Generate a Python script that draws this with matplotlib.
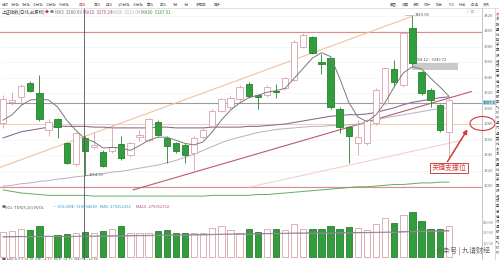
import matplotlib
matplotlib.use('Agg')
import matplotlib.pyplot as plt
from matplotlib.patches import Ellipse, FancyArrowPatch, Rectangle
from matplotlib.lines import Line2D

plt.rcParams['font.family'] = ['Noto Sans CJK SC', 'DejaVu Sans']

# candles (open, high, low, close)
opens = [3281, 3308, 3315, 3333, 3320, 3272, 3286, 3255, 3228, 3262,
         3250, 3244, 3245, 3254, 3240, 3263, 3259, 3283, 3262, 3255,
         3253, 3243, 3263, 3277, 3297, 3302, 3312, 3332, 3317, 3317,
         3323, 3326, 3337, 3380, 3392, 3360, 3365, 3300, 3276, 3255,
         3255, 3281, 3307, 3351, 3330, 3404, 3347, 3324, 3304, 3270]
highs = [3318, 3321, 3331, 3335, 3343, 3286, 3288, 3257, 3270, 3264,
         3270, 3246, 3279, 3264, 3257, 3272, 3288, 3285, 3264, 3257,
         3255, 3264, 3276, 3299, 3314, 3316, 3330, 3334, 3319, 3330,
         3331, 3341, 3388, 3397, 3394, 3370, 3367, 3302, 3278, 3285,
         3287, 3326, 3354, 3362, 3399, 3419.05, 3349, 3326, 3306, 3313]
lows = [3275, 3305, 3305, 3321, 3284, 3264, 3262, 3228, 3226, 3214.69,
        3248, 3224, 3243, 3233, 3238, 3258, 3257, 3264, 3230, 3243,
        3230, 3221, 3261, 3275, 3295, 3300, 3310, 3314, 3300, 3315,
        3313, 3324, 3335, 3378, 3370, 3345, 3300, 3268, 3230, 3240,
        3253, 3279, 3305, 3328, 3328, 3356, 3318, 3302, 3270, 3237]
closes = [3312, 3311, 3329, 3323, 3286, 3283, 3276, 3230, 3268, 3245,
          3253, 3226, 3250, 3236, 3255, 3266, 3286, 3266, 3252, 3245,
          3240, 3262, 3272, 3297, 3312, 3314, 3328, 3316, 3315, 3328,
          3321, 3339, 3386, 3395, 3372, 3358, 3302, 3276, 3264, 3263,
          3285, 3324, 3352, 3334, 3397, 3359, 3320, 3311, 3272, 3311]

ma5 = [3285, 3292, 3304, 3311, 3312, 3311, 3302, 3285, 3272, 3261,
       3257, 3249, 3250, 3249, 3246, 3252, 3259, 3263, 3263, 3259,
       3255, 3253, 3257, 3270, 3285, 3298, 3307, 3314, 3317, 3321,
       3323, 3326, 3339, 3352, 3365, 3372, 3367, 3339, 3308, 3289,
       3283, 3292, 3308, 3328, 3346, 3354, 3351, 3339, 3328, 3316]
ma10 = [3262, 3266, 3270, 3272, 3274, 3276, 3277, 3277, 3277, 3277,
        3276, 3276, 3275, 3275, 3275, 3275, 3275, 3276, 3276, 3275,
        3275, 3275, 3275, 3276, 3276, 3276, 3276, 3277, 3277, 3278,
        3279, 3280, 3282, 3284, 3286, 3288, 3290, 3291, 3292, 3292,
        3293, 3295, 3298, 3301, 3305, 3308, 3310, 3312, 3314, 3315]
ma20 = [3200, 3201, 3203, 3204, 3206, 3207, 3209, 3210, 3212, 3213,
        3215, 3216, 3218, 3219, 3221, 3223, 3225, 3227, 3230, 3233,
        3237, 3241, 3246, 3251, 3256, 3260, 3263, 3266, 3269, 3271,
        3273, 3274, 3275, 3276, 3277, 3277, 3278, 3278, 3279, 3280,
        3282, 3285, 3288, 3290, 3292, 3294, 3296, 3298, 3300, 3301]
ma60 = [3195, 3193, 3191, 3190, 3189, 3188, 3188, 3188, 3188, 3188,
        3187, 3187, 3187, 3187, 3187, 3187, 3187, 3187, 3187, 3187,
        3187, 3187, 3187, 3188, 3188, 3188, 3188, 3188, 3189, 3189,
        3190, 3191, 3192, 3193, 3194, 3195, 3196, 3197, 3198, 3199,
        3199, 3200, 3201, 3202, 3202, 3203, 3204, 3204, 3205, 3205]

volumes = [32600, 34000, 36000, 35000, 40700, 26400, 27800, 29300, 31100, 32600,
           31100, 34000, 36000, 41100, 31100, 30300, 31100, 33600, 35000, 30300,
           30300, 31100, 30300, 37400, 40700, 35000, 30300, 36000, 32600, 36000,
           36000, 35000, 43100, 36400, 36000, 36000, 40700, 36800, 39700, 37400,
           35000, 43100, 51700, 45400, 56400, 61100, 47800, 36800, 36400, 40700]
vol_ma = [25400, 25600, 25800, 25700, 25900, 26100, 25900, 25800, 26000, 26200,
          26300, 26500, 26600, 26900, 27000, 27200, 27300, 27500, 27800, 27900,
          28100, 28300, 28400, 28700, 29000, 29200, 29300, 29500, 29800, 30000,
          30200, 30300, 30600, 30700, 30900, 31000, 31100, 31200, 31300, 31400,
          31500, 31700, 31900, 32200, 32600, 32900, 33200, 33500, 33800, 34000]

price_ticks = [3420, 3400, 3380, 3360, 3340, 3320, 3300, 3280, 3260, 3240, 3220, 3200]
vol_ticks = [45000, 30000, 15000]

toolbar_left = ['分时', '1分钟', '5分钟', '15分钟', '30分钟', '60分钟', '日线', '周线',
                '月线', '120分钟', '45分钟', '季线', '年线', '5分', '1分', '多周期', '更多']
toolbar_right = ['画图', '设置', '多股', '统计', '指标', 'F10', '标记', '+自选', '资讯']

W, H = 499, 260
fig = plt.figure(figsize=(W / 100, H / 100), dpi=100)
fig.patch.set_facecolor('white')


def fx(px):
    return px / W


def fy(py):
    return 1 - py / H


def ftext(px, py, s, **kw):
    kw.setdefault('fontsize', 3.2)
    kw.setdefault('va', 'center')
    fig.text(fx(px), fy(py), s, **kw)


def fline(xs, ys, **kw):
    fig.add_artist(Line2D([fx(x) for x in xs], [fy(y) for y in ys],
                          transform=fig.transFigure, **kw))


up_edge = '#d7a2aa'
dn_face = '#339c3c'
dn_edge = '#26822e'

# ---------------- price panel ----------------
ax = fig.add_axes([0, fy(204), 482 / W, (204 - 8) / H])
ax.set_xlim(-0.33, 52.64)
ax.set_ylim(3176.8, 3429.7)
for y in price_ticks:
    ax.axhline(y, color='#f1f1f1', lw=0.4, zorder=0)

# horizontal levels
ax.axhline(3399, color='#e08c8c', lw=0.8, zorder=1)
ax.axhline(3199, color='#e08c8c', lw=0.8, zorder=1)
ax.axhline(3307.6, color='#9a9a9a', lw=0.8, zorder=1)
ax.axhline(3280, color='#ecd0b4', lw=0.7, zorder=1)

# trend lines
ax.plot([-0.33, 45], [3224, 3419.05], color='#f2c29c', lw=0.8, zorder=1)
ax.plot([27.1, 50.5], [3198.7, 3259], color='#f1d2ca', lw=0.8, zorder=1)
ax.plot([14.3, 51.5], [3195, 3322], color='#b85c6e', lw=0.8, zorder=1)

# zone band
ax.fill_between([45, 50.0], 3349.72, 3358.12, color='#c9c9c9', lw=0, zorder=1)

xs = list(range(len(opens)))
ax.plot(xs, ma20, color='#bcaec4', lw=0.7, zorder=2)
ax.plot(xs, ma60, color='#5fae62', lw=0.7, zorder=2)
ax.plot(xs, ma10, color='#8e6f98', lw=0.8, zorder=2)

for i in xs:
    o, h, l, c = opens[i], highs[i], lows[i], closes[i]
    up = c >= o
    ec = up_edge if up else dn_edge
    ax.vlines(i, l, h, color=ec, lw=0.6, zorder=3)
    bot, top = min(o, c), max(o, c)
    ax.add_patch(Rectangle((i - 0.35, bot), 0.7, max(top - bot, 0.8),
                           facecolor='white' if up else dn_face,
                           edgecolor=ec, lw=0.6, zorder=4))

ax.plot(xs, ma5, color='#7a7a7a', lw=0.7, zorder=5)

ax.set_xticks([])
ax.set_yticks([])
for s in ['top', 'left']:
    ax.spines[s].set_visible(False)
ax.spines['right'].set_color('#bbbbbb')
ax.spines['right'].set_linewidth(0.6)
ax.spines['bottom'].set_color('#cccccc')
ax.spines['bottom'].set_linewidth(0.6)

ytr = ax.get_yaxis_transform()
for y in price_ticks:
    ax.text(489 / 482, y, str(y), transform=ytr, fontsize=3.0, color='#777777',
            ha='center', va='center', clip_on=False)
ax.text(489.5 / 482, 3307.6, '3307.6', transform=ytr, fontsize=3.0, color='#333333',
        ha='center', va='center', clip_on=False,
        bbox=dict(boxstyle='square,pad=0.15', facecolor='#a9dfe6', edgecolor='none'))

ax.text(45.3, 3420.5, '3419.05', fontsize=3.0, color='#555555', ha='left', va='center')
ax.plot([44.2, 45.2], [3420.5, 3420.5], color='#999999', lw=0.4)
ax.text(9.4, 3214.69, '3214.69', fontsize=3.0, color='#555555', ha='left', va='center')
ax.plot([9.0, 9.35], [3214.69, 3214.69], color='#777777', lw=0.4)
ax.text(45.1, 3363, '3358.12 - 3349.72', fontsize=3.0, color='#555555', ha='left', va='center')

# ---------------- volume panel ----------------
vax = fig.add_axes([0, 0, 482 / W, (260 - 204) / H])
vax.set_xlim(-0.33, 52.64)
vax.set_ylim(-7854, 72114)
base = -3600
for i in xs:
    up = closes[i] >= opens[i]
    vax.bar(i, volumes[i] - base, bottom=base, width=0.7,
            facecolor='white' if up else dn_face,
            edgecolor=up_edge if up else dn_edge, lw=0.6)
vax.plot(xs, vol_ma, color='#8e6f98', lw=0.7)
vax.plot(xs, [v - 600 for v in vol_ma], color='#9a9a9a', lw=0.5)
vax.set_xticks([])
vax.set_yticks([])
for s in ['top', 'left', 'bottom']:
    vax.spines[s].set_visible(False)
vax.spines['right'].set_color('#bbbbbb')
vax.spines['right'].set_linewidth(0.6)
vtr = vax.get_yaxis_transform()
for v in vol_ticks:
    vax.text(488 / 482, v, str(v), transform=vtr, fontsize=2.8, color='#888888',
             ha='center', va='center', clip_on=False)

# crosshair
fline([84, 84], [8, 260], color='#555555', lw=0.6)

# ---------------- header / texts ----------------
fline([0, 499], [8, 8], color='#d5d5d5', lw=0.5)
tx = [2, 11, 22, 33, 46, 59, 78, 94, 106, 118, 133, 147, 160, 173, 184, 196, 214]
for x, s in zip(tx, toolbar_left):
    col = '#d03030' if s == '日线' else '#666666'
    ftext(x, 4.5, s, color=col, ha='left', fontsize=2.5)
rx = [390, 402, 413, 424, 436, 449, 459, 470, 483]
for x, s in zip(rx, toolbar_right):
    ftext(x, 4.5, s, color='#666666', ha='left', fontsize=2.5)
ftext(466, 12, '◇ ⊡', color='#888888', ha='left', fontsize=2.8)

ftext(2, 12, '上证指数(日线,前复权)', color='#444444', ha='left')
ftext(45, 12, '◆', color='#d03030', ha='left', fontsize=2.8)
ftext(49.5, 12, '●', color='#777777', ha='left', fontsize=2.8)
ftext(55, 12, 'MA5  3280.69', color='#777777', ha='left')
ftext(83, 12, 'MA10  3279.24', color='#b0508a', ha='left')
ftext(111, 12, 'MA20  3213.04', color='#b8aab8', ha='left')
ftext(141, 12, 'MA60  3187.91', color='#3f9a46', ha='left')

ftext(2, 207.5, '●', color='#666666', ha='left', fontsize=2.8)
ftext(5, 207.5, 'VOL-TDX(5,10) VVOL', color='#555555', ha='left', fontsize=3.0)
ftext(53, 207.5, '— VOLUME: 318004640', color='#3a9ad0', ha='left', fontsize=3.0)
ftext(100, 207.5, 'MA5: 275652192', color='#3a9ad0', ha='left', fontsize=3.0)
ftext(136, 207.5, 'MA10: 275652192', color='#b0508a', ha='left', fontsize=3.0)

ftext(2, 259.5, '■ MACD(12,26,9)  DIF: -4.11  DEA: 14.17  MACD: -36.56', color='#555555',
      ha='left', fontsize=2.8)

ftext(463, 251, '头条号 | 九请财经', color='#666666', ha='center', fontsize=5.0)

# right edge strip
fline([494.5, 494.5], [8, 260], color='#cccccc', lw=0.5)
strip = '冬涨跌量比换手率振幅市盈总值流通股本均价外盘内盘委比'
for k, ch in enumerate(strip * 2):
    py = 14 + k * 5.2
    if py > 258:
        break
    ftext(497.5, py, ch, color='#d03030' if k == 0 else '#444444', ha='center', fontsize=2.6)

# annotation
fig.add_artist(Ellipse((fx(482.5), fy(123.5)), width=25 / W, height=14 / H,
                       transform=fig.transFigure, fill=False, edgecolor='#d33a3a', lw=0.8))
fig.add_artist(FancyArrowPatch((fx(446), fy(164)), (fx(469), fy(127)),
                               transform=fig.transFigure, arrowstyle='-|>',
                               mutation_scale=6, color='#d33a3a', lw=1.1))
ftext(449, 168, '关键支撑位', color='#d33a3a', ha='center', fontsize=5.0,
      bbox=dict(boxstyle='square,pad=0.2', facecolor='white', edgecolor='#c24a4a', lw=0.7))

fig.savefig('out.png', dpi=100)
